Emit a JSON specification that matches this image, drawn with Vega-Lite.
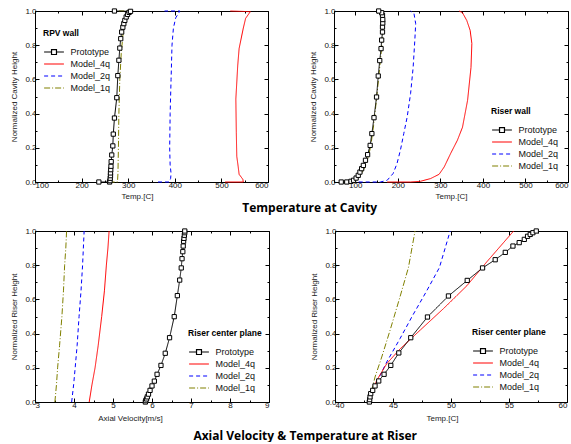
{
  "$schema": "https://vega.github.io/schema/vega-lite/v6.json",
  "padding": {"left": 10, "top": 6, "right": 0, "bottom": 0},
  "background": "white",
  "spacing": 12,
  "resolve": {"scale": {"color": "independent", "strokeDash": "independent"}, "legend": {"color": "independent", "strokeDash": "independent"}},
  "config": {
    "view": {"stroke": "#000", "strokeWidth": 1},
    "axis": {"grid": false, "domainColor": "#000", "domainWidth": 1, "tickColor": "#000", "tickWidth": 1, "labelOverlap": false,
      "labelFont": "Liberation Sans", "labelFontSize": 8, "labelColor": "#111", "labelPadding": 3,
      "titleFont": "Liberation Sans", "titleFontSize": 8, "titleFontWeight": "normal", "titleColor": "#222"},
    "legend": {"labelFont": "Liberation Sans", "labelFontSize": 9, "labelColor": "#111", "titleFont": "Liberation Sans",
      "titleFontSize": 8.5, "titleFontWeight": "bold", "titleColor": "#000", "symbolType": "stroke", "symbolSize": 121,
      "symbolStrokeWidth": 1.2, "symbolOffset": 4.5, "labelOffset": 10, "rowPadding": 0, "titlePadding": 8, "padding": 0, "orient": "none"},
    "title": {"font": "Open Sans", "fontSize": 12, "fontWeight": "bold", "color": "#000"}
  },
  "datasets": {
    "cav_rpv": [
      {"s": "Model_1q", "x": 258, "y": 0}, {"s": "Model_1q", "x": 277, "y": 0}, {"s": "Model_1q", "x": 278, "y": 0.05}, {"s": "Model_1q", "x": 279, "y": 0.2}, {"s": "Model_1q", "x": 280, "y": 0.4}, {"s": "Model_1q", "x": 282, "y": 0.6}, {"s": "Model_1q", "x": 285, "y": 0.75}, {"s": "Model_1q", "x": 289, "y": 0.87}, {"s": "Model_1q", "x": 294, "y": 0.94}, {"s": "Model_1q", "x": 300, "y": 0.98}, {"s": "Model_1q", "x": 304, "y": 1.0}, {"s": "Model_1q", "x": 280, "y": 1.0},
      {"s": "Model_2q", "x": 364, "y": 0}, {"s": "Model_2q", "x": 388, "y": 0}, {"s": "Model_2q", "x": 391, "y": 0.02}, {"s": "Model_2q", "x": 392, "y": 0.05}, {"s": "Model_2q", "x": 390, "y": 0.1}, {"s": "Model_2q", "x": 389, "y": 0.2}, {"s": "Model_2q", "x": 390, "y": 0.4}, {"s": "Model_2q", "x": 392, "y": 0.6}, {"s": "Model_2q", "x": 394, "y": 0.8}, {"s": "Model_2q", "x": 397, "y": 0.9}, {"s": "Model_2q", "x": 402, "y": 0.96}, {"s": "Model_2q", "x": 411, "y": 1.0}, {"s": "Model_2q", "x": 378, "y": 1.0},
      {"s": "Model_4q", "x": 508, "y": 0}, {"s": "Model_4q", "x": 547, "y": 0}, {"s": "Model_4q", "x": 546, "y": 0.016}, {"s": "Model_4q", "x": 538, "y": 0.045}, {"s": "Model_4q", "x": 536, "y": 0.09}, {"s": "Model_4q", "x": 533, "y": 0.15}, {"s": "Model_4q", "x": 532, "y": 0.29}, {"s": "Model_4q", "x": 531, "y": 0.485}, {"s": "Model_4q", "x": 535, "y": 0.68}, {"s": "Model_4q", "x": 538, "y": 0.78}, {"s": "Model_4q", "x": 547, "y": 0.9}, {"s": "Model_4q", "x": 552, "y": 0.957}, {"s": "Model_4q", "x": 562, "y": 0.996}, {"s": "Model_4q", "x": 519, "y": 1.0},
      {"s": "Prototype", "x": 237, "y": 0}, {"s": "Prototype", "x": 260, "y": 0}, {"s": "Prototype", "x": 261, "y": 0.008}, {"s": "Prototype", "x": 261.5, "y": 0.022}, {"s": "Prototype", "x": 262, "y": 0.037}, {"s": "Prototype", "x": 262, "y": 0.053}, {"s": "Prototype", "x": 262.5, "y": 0.072}, {"s": "Prototype", "x": 263, "y": 0.092}, {"s": "Prototype", "x": 263.5, "y": 0.119}, {"s": "Prototype", "x": 264.7, "y": 0.158}, {"s": "Prototype", "x": 267, "y": 0.211}, {"s": "Prototype", "x": 268, "y": 0.28}, {"s": "Prototype", "x": 270.5, "y": 0.374}, {"s": "Prototype", "x": 275.5, "y": 0.493}, {"s": "Prototype", "x": 277.7, "y": 0.622}, {"s": "Prototype", "x": 280, "y": 0.712}, {"s": "Prototype", "x": 282, "y": 0.783}, {"s": "Prototype", "x": 284, "y": 0.838}, {"s": "Prototype", "x": 286, "y": 0.877}, {"s": "Prototype", "x": 288.5, "y": 0.905}, {"s": "Prototype", "x": 290.6, "y": 0.926}, {"s": "Prototype", "x": 292.8, "y": 0.945}, {"s": "Prototype", "x": 295.7, "y": 0.965}, {"s": "Prototype", "x": 298.6, "y": 0.98}, {"s": "Prototype", "x": 302, "y": 0.992}, {"s": "Prototype", "x": 305, "y": 0.998}, {"s": "Prototype", "x": 270.5, "y": 1.0}
    ],
    "cav_riser": [
      {"s": "Model_1q", "x": 72, "y": 0}, {"s": "Model_1q", "x": 90, "y": 0.002}, {"s": "Model_1q", "x": 100, "y": 0.01}, {"s": "Model_1q", "x": 110, "y": 0.035}, {"s": "Model_1q", "x": 117, "y": 0.06}, {"s": "Model_1q", "x": 125, "y": 0.1}, {"s": "Model_1q", "x": 132, "y": 0.16}, {"s": "Model_1q", "x": 137, "y": 0.22}, {"s": "Model_1q", "x": 143, "y": 0.33}, {"s": "Model_1q", "x": 148, "y": 0.44}, {"s": "Model_1q", "x": 153, "y": 0.56}, {"s": "Model_1q", "x": 157, "y": 0.66}, {"s": "Model_1q", "x": 161, "y": 0.76}, {"s": "Model_1q", "x": 164, "y": 0.85}, {"s": "Model_1q", "x": 166, "y": 0.93}, {"s": "Model_1q", "x": 166, "y": 0.98}, {"s": "Model_1q", "x": 160, "y": 1.0},
      {"s": "Model_2q", "x": 108, "y": 0}, {"s": "Model_2q", "x": 159, "y": 0}, {"s": "Model_2q", "x": 175, "y": 0.01}, {"s": "Model_2q", "x": 189, "y": 0.05}, {"s": "Model_2q", "x": 198, "y": 0.107}, {"s": "Model_2q", "x": 206, "y": 0.185}, {"s": "Model_2q", "x": 214, "y": 0.283}, {"s": "Model_2q", "x": 222, "y": 0.38}, {"s": "Model_2q", "x": 230, "y": 0.517}, {"s": "Model_2q", "x": 236, "y": 0.67}, {"s": "Model_2q", "x": 240, "y": 0.83}, {"s": "Model_2q", "x": 242, "y": 0.926}, {"s": "Model_2q", "x": 238, "y": 0.985}, {"s": "Model_2q", "x": 230, "y": 1.0},
      {"s": "Model_4q", "x": 175, "y": 0}, {"s": "Model_4q", "x": 230, "y": 0}, {"s": "Model_4q", "x": 253, "y": 0.004}, {"s": "Model_4q", "x": 277, "y": 0.02}, {"s": "Model_4q", "x": 297, "y": 0.045}, {"s": "Model_4q", "x": 309, "y": 0.088}, {"s": "Model_4q", "x": 324, "y": 0.166}, {"s": "Model_4q", "x": 340, "y": 0.244}, {"s": "Model_4q", "x": 352, "y": 0.32}, {"s": "Model_4q", "x": 364, "y": 0.478}, {"s": "Model_4q", "x": 372, "y": 0.67}, {"s": "Model_4q", "x": 374, "y": 0.81}, {"s": "Model_4q", "x": 370, "y": 0.887}, {"s": "Model_4q", "x": 362, "y": 0.945}, {"s": "Model_4q", "x": 352, "y": 0.99}, {"s": "Model_4q", "x": 344, "y": 1.0},
      {"s": "Prototype", "x": 67, "y": 0}, {"s": "Prototype", "x": 80, "y": 0}, {"s": "Prototype", "x": 90, "y": 0.004}, {"s": "Prototype", "x": 96, "y": 0.01}, {"s": "Prototype", "x": 102, "y": 0.023}, {"s": "Prototype", "x": 107, "y": 0.039}, {"s": "Prototype", "x": 111, "y": 0.058}, {"s": "Prototype", "x": 115, "y": 0.078}, {"s": "Prototype", "x": 119, "y": 0.097}, {"s": "Prototype", "x": 124, "y": 0.127}, {"s": "Prototype", "x": 129, "y": 0.16}, {"s": "Prototype", "x": 135, "y": 0.214}, {"s": "Prototype", "x": 139, "y": 0.283}, {"s": "Prototype", "x": 144, "y": 0.376}, {"s": "Prototype", "x": 150, "y": 0.497}, {"s": "Prototype", "x": 154, "y": 0.62}, {"s": "Prototype", "x": 157.5, "y": 0.71}, {"s": "Prototype", "x": 160.6, "y": 0.78}, {"s": "Prototype", "x": 162, "y": 0.83}, {"s": "Prototype", "x": 164, "y": 0.877}, {"s": "Prototype", "x": 164, "y": 0.906}, {"s": "Prototype", "x": 164.6, "y": 0.93}, {"s": "Prototype", "x": 164.6, "y": 0.95}, {"s": "Prototype", "x": 164, "y": 0.975}, {"s": "Prototype", "x": 162, "y": 0.99}, {"s": "Prototype", "x": 155, "y": 1.0}
    ],
    "riser_vel": [
      {"s": "Model_1q", "x": 3.51, "y": 0}, {"s": "Model_1q", "x": 3.55, "y": 0.1}, {"s": "Model_1q", "x": 3.58, "y": 0.2}, {"s": "Model_1q", "x": 3.63, "y": 0.33}, {"s": "Model_1q", "x": 3.69, "y": 0.5}, {"s": "Model_1q", "x": 3.73, "y": 0.65}, {"s": "Model_1q", "x": 3.76, "y": 0.8}, {"s": "Model_1q", "x": 3.79, "y": 0.9}, {"s": "Model_1q", "x": 3.81, "y": 1.0},
      {"s": "Model_2q", "x": 3.94, "y": 0}, {"s": "Model_2q", "x": 3.99, "y": 0.1}, {"s": "Model_2q", "x": 4.03, "y": 0.2}, {"s": "Model_2q", "x": 4.08, "y": 0.33}, {"s": "Model_2q", "x": 4.13, "y": 0.5}, {"s": "Model_2q", "x": 4.18, "y": 0.65}, {"s": "Model_2q", "x": 4.22, "y": 0.8}, {"s": "Model_2q", "x": 4.24, "y": 0.9}, {"s": "Model_2q", "x": 4.26, "y": 1.0},
      {"s": "Model_4q", "x": 4.39, "y": 0}, {"s": "Model_4q", "x": 4.46, "y": 0.1}, {"s": "Model_4q", "x": 4.54, "y": 0.2}, {"s": "Model_4q", "x": 4.62, "y": 0.33}, {"s": "Model_4q", "x": 4.71, "y": 0.5}, {"s": "Model_4q", "x": 4.78, "y": 0.65}, {"s": "Model_4q", "x": 4.83, "y": 0.8}, {"s": "Model_4q", "x": 4.87, "y": 0.9}, {"s": "Model_4q", "x": 4.9, "y": 1.0},
      {"s": "Prototype", "x": 5.83, "y": 0}, {"s": "Prototype", "x": 5.84, "y": 0.008}, {"s": "Prototype", "x": 5.86, "y": 0.018}, {"s": "Prototype", "x": 5.88, "y": 0.03}, {"s": "Prototype", "x": 5.91, "y": 0.046}, {"s": "Prototype", "x": 5.95, "y": 0.068}, {"s": "Prototype", "x": 6.0, "y": 0.094}, {"s": "Prototype", "x": 6.06, "y": 0.122}, {"s": "Prototype", "x": 6.13, "y": 0.162}, {"s": "Prototype", "x": 6.23, "y": 0.214}, {"s": "Prototype", "x": 6.34, "y": 0.285}, {"s": "Prototype", "x": 6.45, "y": 0.376}, {"s": "Prototype", "x": 6.57, "y": 0.499}, {"s": "Prototype", "x": 6.65, "y": 0.622}, {"s": "Prototype", "x": 6.71, "y": 0.713}, {"s": "Prototype", "x": 6.75, "y": 0.784}, {"s": "Prototype", "x": 6.77, "y": 0.838}, {"s": "Prototype", "x": 6.79, "y": 0.879}, {"s": "Prototype", "x": 6.8, "y": 0.912}, {"s": "Prototype", "x": 6.81, "y": 0.94}, {"s": "Prototype", "x": 6.82, "y": 0.957}, {"s": "Prototype", "x": 6.83, "y": 0.975}, {"s": "Prototype", "x": 6.84, "y": 0.99}, {"s": "Prototype", "x": 6.84, "y": 1.0}
    ],
    "riser_temp": [
      {"s": "Model_1q", "x": 42.96, "y": 0}, {"s": "Model_1q", "x": 43.05, "y": 0.03}, {"s": "Model_1q", "x": 43.17, "y": 0.068}, {"s": "Model_1q", "x": 43.45, "y": 0.146}, {"s": "Model_1q", "x": 44.03, "y": 0.263}, {"s": "Model_1q", "x": 44.75, "y": 0.42}, {"s": "Model_1q", "x": 45.6, "y": 0.614}, {"s": "Model_1q", "x": 46.33, "y": 0.786}, {"s": "Model_1q", "x": 46.9, "y": 1.0},
      {"s": "Model_2q", "x": 42.96, "y": 0}, {"s": "Model_2q", "x": 43.05, "y": 0.03}, {"s": "Model_2q", "x": 43.25, "y": 0.068}, {"s": "Model_2q", "x": 43.74, "y": 0.136}, {"s": "Model_2q", "x": 44.46, "y": 0.234}, {"s": "Model_2q", "x": 45.6, "y": 0.37}, {"s": "Model_2q", "x": 46.7, "y": 0.507}, {"s": "Model_2q", "x": 47.85, "y": 0.643}, {"s": "Model_2q", "x": 49.0, "y": 0.786}, {"s": "Model_2q", "x": 49.93, "y": 1.0},
      {"s": "Model_4q", "x": 42.96, "y": 0}, {"s": "Model_4q", "x": 43.05, "y": 0.03}, {"s": "Model_4q", "x": 43.17, "y": 0.05}, {"s": "Model_4q", "x": 43.6, "y": 0.127}, {"s": "Model_4q", "x": 44.46, "y": 0.224}, {"s": "Model_4q", "x": 45.6, "y": 0.31}, {"s": "Model_4q", "x": 47.34, "y": 0.42}, {"s": "Model_4q", "x": 49.35, "y": 0.546}, {"s": "Model_4q", "x": 51.37, "y": 0.68}, {"s": "Model_4q", "x": 53.09, "y": 0.82}, {"s": "Model_4q", "x": 55.4, "y": 1.0},
      {"s": "Prototype", "x": 42.96, "y": 0}, {"s": "Prototype", "x": 42.99, "y": 0.014}, {"s": "Prototype", "x": 43.02, "y": 0.03}, {"s": "Prototype", "x": 43.08, "y": 0.049}, {"s": "Prototype", "x": 43.25, "y": 0.068}, {"s": "Prototype", "x": 43.45, "y": 0.094}, {"s": "Prototype", "x": 43.77, "y": 0.123}, {"s": "Prototype", "x": 44.23, "y": 0.162}, {"s": "Prototype", "x": 44.81, "y": 0.214}, {"s": "Prototype", "x": 45.5, "y": 0.287}, {"s": "Prototype", "x": 46.53, "y": 0.376}, {"s": "Prototype", "x": 47.97, "y": 0.497}, {"s": "Prototype", "x": 49.78, "y": 0.62}, {"s": "Prototype", "x": 51.4, "y": 0.711}, {"s": "Prototype", "x": 52.72, "y": 0.784}, {"s": "Prototype", "x": 53.81, "y": 0.832}, {"s": "Prototype", "x": 54.68, "y": 0.875}, {"s": "Prototype", "x": 55.34, "y": 0.912}, {"s": "Prototype", "x": 55.88, "y": 0.932}, {"s": "Prototype", "x": 56.32, "y": 0.951}, {"s": "Prototype", "x": 56.6, "y": 0.969}, {"s": "Prototype", "x": 56.83, "y": 0.98}, {"s": "Prototype", "x": 57.06, "y": 0.99}, {"s": "Prototype", "x": 57.35, "y": 1.0}
    ]
  },
  "vconcat": [
    {
      "title": {"text": "Temperature at Cavity", "orient": "bottom", "anchor": "middle", "dx": 20, "offset": 2},
      "spacing": 40,
      "resolve": {"scale": {"color": "independent", "strokeDash": "independent"}, "legend": {"color": "independent", "strokeDash": "independent"}},
      "hconcat": [
        {
          "width": 233, "height": 171,
          "data": {"name": "cav_rpv"},
          "resolve": {"axis": {"x": "independent", "y": "independent"}},
          "layer": [
            {
              "mark": {"type": "line", "strokeWidth": 1},
              "encoding": {
                "x": {"field": "x", "type": "quantitative", "scale": {"domain": [100, 600], "nice": false, "zero": false},
                  "axis": {"title": "Temp.[C]", "titleX": 102, "values": [100, 150, 200, 250, 300, 350, 400, 450, 500, 550, 600], "labelExpr": "datum.value % 100 === 0 ? datum.label : ''", "tickSize": {"condition": {"test": "datum.value % 100 === 0", "value": -4}, "value": -2}, "titlePadding": 1}},
                "y": {"field": "y", "type": "quantitative", "scale": {"domain": [0, 1], "nice": false},
                  "axis": {"title": "Normalized Cavity Height", "format": ".1f", "values": [0, 0.1, 0.2, 0.3, 0.4, 0.5, 0.6, 0.7, 0.8, 0.9, 1], "labelExpr": "round(datum.value * 10) % 2 === 0 ? datum.label : ''", "tickSize": {"condition": {"test": "round(datum.value * 10) % 2 === 0", "value": -4}, "value": -2}, "titlePadding": 6}},
                "color": {"field": "s", "type": "nominal", "scale": {"domain": ["Prototype", "Model_4q", "Model_2q", "Model_1q"], "range": ["#000000", "#ff0000", "#0000ff", "#808000"]},
                  "legend": {"title": "RPV wall", "legendX": 8, "legendY": 18, "encode": {"symbols": {"update": {"shape": {"signal": "datum.value === 'Prototype' ? 'M-1.8,0H-0.45M0.45,0H1.8M-0.45,-0.45H0.45V0.45H-0.45Z' : 'M-1.8,0H1.8'"}, "strokeDash": {"signal": "datum.value === 'Model_2q' ? [4, 3] : datum.value === 'Model_1q' ? [6, 2, 1, 2] : [1, 0]"}}}}}},
                "strokeDash": {"field": "s", "type": "nominal", "scale": {"domain": ["Prototype", "Model_4q", "Model_2q", "Model_1q"], "range": [[1, 0], [1, 0], [4, 3], [6, 2, 1, 2]]}, "legend": null},
                "order": {"value": null}
              }
            },
            {
              "transform": [{"filter": "datum.s === 'Prototype'"}],
              "mark": {"type": "point", "shape": "square", "size": 18, "filled": true, "fill": "#ffffff", "stroke": "#000000", "strokeWidth": 1, "opacity": 1},
              "encoding": {
                "x": {"field": "x", "type": "quantitative", "scale": {"domain": [100, 600], "nice": false, "zero": false},
                  "axis": {"orient": "top", "labels": false, "title": null, "domain": false, "values": [100, 150, 200, 250, 300, 350, 400, 450, 500, 550, 600], "tickSize": {"condition": {"test": "datum.value % 100 === 0", "value": -4}, "value": -2}}},
                "y": {"field": "y", "type": "quantitative", "scale": {"domain": [0, 1], "nice": false},
                  "axis": {"orient": "right", "labels": false, "title": null, "domain": false, "values": [0, 0.1, 0.2, 0.3, 0.4, 0.5, 0.6, 0.7, 0.8, 0.9, 1], "tickSize": {"condition": {"test": "round(datum.value * 10) % 2 === 0", "value": -4}, "value": -2}}}
              }
            }
          ]
        },
        {
          "width": 234, "height": 171,
          "data": {"name": "cav_riser"},
          "resolve": {"axis": {"x": "independent", "y": "independent"}},
          "layer": [
            {
              "mark": {"type": "line", "strokeWidth": 1},
              "encoding": {
                "x": {"field": "x", "type": "quantitative", "scale": {"domain": [50, 600], "nice": false, "zero": false},
                  "axis": {"title": "Temp.[C]", "values": [50, 100, 150, 200, 250, 300, 350, 400, 450, 500, 550, 600], "labelExpr": "datum.value % 100 === 0 ? datum.label : ''", "tickSize": {"condition": {"test": "datum.value % 100 === 0", "value": -4}, "value": -2}, "titlePadding": 1}},
                "y": {"field": "y", "type": "quantitative", "scale": {"domain": [0, 1], "nice": false},
                  "axis": {"title": "Normalized Cavity Height", "format": ".1f", "values": [0, 0.1, 0.2, 0.3, 0.4, 0.5, 0.6, 0.7, 0.8, 0.9, 1], "labelExpr": "round(datum.value * 10) % 2 === 0 ? datum.label : ''", "tickSize": {"condition": {"test": "round(datum.value * 10) % 2 === 0", "value": -4}, "value": -2}, "titlePadding": 6}},
                "color": {"field": "s", "type": "nominal", "scale": {"domain": ["Prototype", "Model_4q", "Model_2q", "Model_1q"], "range": ["#000000", "#ff0000", "#0000ff", "#808000"]},
                  "legend": {"title": "Riser wall", "legendX": 157, "legendY": 96, "encode": {"symbols": {"update": {"shape": {"signal": "datum.value === 'Prototype' ? 'M-1.8,0H-0.45M0.45,0H1.8M-0.45,-0.45H0.45V0.45H-0.45Z' : 'M-1.8,0H1.8'"}, "strokeDash": {"signal": "datum.value === 'Model_2q' ? [4, 3] : datum.value === 'Model_1q' ? [6, 2, 1, 2] : [1, 0]"}}}}}},
                "strokeDash": {"field": "s", "type": "nominal", "scale": {"domain": ["Prototype", "Model_4q", "Model_2q", "Model_1q"], "range": [[1, 0], [1, 0], [4, 3], [6, 2, 1, 2]]}, "legend": null},
                "order": {"value": null}
              }
            },
            {
              "transform": [{"filter": "datum.s === 'Prototype'"}],
              "mark": {"type": "point", "shape": "square", "size": 18, "filled": true, "fill": "#ffffff", "stroke": "#000000", "strokeWidth": 1, "opacity": 1},
              "encoding": {
                "x": {"field": "x", "type": "quantitative", "scale": {"domain": [50, 600], "nice": false, "zero": false},
                  "axis": {"orient": "top", "labels": false, "title": null, "domain": false, "values": [50, 100, 150, 200, 250, 300, 350, 400, 450, 500, 550, 600], "tickSize": {"condition": {"test": "datum.value % 100 === 0", "value": -4}, "value": -2}}},
                "y": {"field": "y", "type": "quantitative", "scale": {"domain": [0, 1], "nice": false},
                  "axis": {"orient": "right", "labels": false, "title": null, "domain": false, "values": [0, 0.1, 0.2, 0.3, 0.4, 0.5, 0.6, 0.7, 0.8, 0.9, 1], "tickSize": {"condition": {"test": "round(datum.value * 10) % 2 === 0", "value": -4}, "value": -2}}}
              }
            }
          ]
        }
      ]
    },
    {
      "title": {"text": "Axial Velocity & Temperature at Riser", "orient": "bottom", "anchor": "middle", "dx": 16, "offset": 8},
      "spacing": 40,
      "resolve": {"scale": {"color": "independent", "strokeDash": "independent"}, "legend": {"color": "independent", "strokeDash": "independent"}},
      "hconcat": [
        {
          "width": 234, "height": 171,
          "data": {"name": "riser_vel"},
          "resolve": {"axis": {"x": "independent", "y": "independent"}},
          "layer": [
            {
              "mark": {"type": "line", "strokeWidth": 1},
              "encoding": {
                "x": {"field": "x", "type": "quantitative", "scale": {"domain": [3, 9], "nice": false, "zero": false},
                  "axis": {"title": "Axial Velocity[m/s]", "titleX": 95, "format": ".0f", "values": [3, 3.5, 4, 4.5, 5, 5.5, 6, 6.5, 7, 7.5, 8, 8.5, 9], "labelExpr": "datum.value % 1 === 0 ? datum.label : ''", "tickSize": {"condition": {"test": "datum.value % 1 === 0", "value": -4}, "value": -2}, "titlePadding": 3}},
                "y": {"field": "y", "type": "quantitative", "scale": {"domain": [0, 1], "nice": false},
                  "axis": {"title": "Normalized Riser Height", "format": ".1f", "values": [0, 0.1, 0.2, 0.3, 0.4, 0.5, 0.6, 0.7, 0.8, 0.9, 1], "labelExpr": "round(datum.value * 10) % 2 === 0 ? datum.label : ''", "tickSize": {"condition": {"test": "round(datum.value * 10) % 2 === 0", "value": -4}, "value": -2}, "titlePadding": 6}},
                "color": {"field": "s", "type": "nominal", "scale": {"domain": ["Prototype", "Model_4q", "Model_2q", "Model_1q"], "range": ["#000000", "#ff0000", "#0000ff", "#808000"]},
                  "legend": {"title": "Riser center plane", "legendX": 153, "legendY": 98, "encode": {"symbols": {"update": {"shape": {"signal": "datum.value === 'Prototype' ? 'M-1.8,0H-0.45M0.45,0H1.8M-0.45,-0.45H0.45V0.45H-0.45Z' : 'M-1.8,0H1.8'"}, "strokeDash": {"signal": "datum.value === 'Model_2q' ? [4, 3] : datum.value === 'Model_1q' ? [6, 2, 1, 2] : [1, 0]"}}}}}},
                "strokeDash": {"field": "s", "type": "nominal", "scale": {"domain": ["Prototype", "Model_4q", "Model_2q", "Model_1q"], "range": [[1, 0], [1, 0], [4, 3], [6, 2, 1, 2]]}, "legend": null},
                "order": {"value": null}
              }
            },
            {
              "transform": [{"filter": "datum.s === 'Prototype'"}],
              "mark": {"type": "point", "shape": "square", "size": 18, "filled": true, "fill": "#ffffff", "stroke": "#000000", "strokeWidth": 1, "opacity": 1},
              "encoding": {
                "x": {"field": "x", "type": "quantitative", "scale": {"domain": [3, 9], "nice": false, "zero": false},
                  "axis": {"orient": "top", "labels": false, "title": null, "domain": false, "values": [3, 3.5, 4, 4.5, 5, 5.5, 6, 6.5, 7, 7.5, 8, 8.5, 9], "tickSize": {"condition": {"test": "datum.value % 1 === 0", "value": -4}, "value": -2}}},
                "y": {"field": "y", "type": "quantitative", "scale": {"domain": [0, 1], "nice": false},
                  "axis": {"orient": "right", "labels": false, "title": null, "domain": false, "values": [0, 0.1, 0.2, 0.3, 0.4, 0.5, 0.6, 0.7, 0.8, 0.9, 1], "tickSize": {"condition": {"test": "round(datum.value * 10) % 2 === 0", "value": -4}, "value": -2}}}
              }
            }
          ]
        },
        {
          "width": 232, "height": 171,
          "data": {"name": "riser_temp"},
          "resolve": {"axis": {"x": "independent", "y": "independent"}},
          "layer": [
            {
              "mark": {"type": "line", "strokeWidth": 1},
              "encoding": {
                "x": {"field": "x", "type": "quantitative", "scale": {"domain": [40, 60], "nice": false, "zero": false},
                  "axis": {"title": "Temp.[C]", "titleX": 107, "format": ".0f", "values": [40, 42.5, 45, 47.5, 50, 52.5, 55, 57.5, 60], "labelExpr": "datum.value % 5 === 0 ? datum.label : ''", "tickSize": {"condition": {"test": "datum.value % 5 === 0", "value": -4}, "value": -2}, "titlePadding": 3}},
                "y": {"field": "y", "type": "quantitative", "scale": {"domain": [0, 1], "nice": false},
                  "axis": {"title": "Normalized Riser Height", "format": ".1f", "values": [0, 0.1, 0.2, 0.3, 0.4, 0.5, 0.6, 0.7, 0.8, 0.9, 1], "labelExpr": "round(datum.value * 10) % 2 === 0 ? datum.label : ''", "tickSize": {"condition": {"test": "round(datum.value * 10) % 2 === 0", "value": -4}, "value": -2}, "titlePadding": 6}},
                "color": {"field": "s", "type": "nominal", "scale": {"domain": ["Prototype", "Model_4q", "Model_2q", "Model_1q"], "range": ["#000000", "#ff0000", "#0000ff", "#808000"]},
                  "legend": {"title": "Riser center plane", "legendX": 137, "legendY": 97, "encode": {"symbols": {"update": {"shape": {"signal": "datum.value === 'Prototype' ? 'M-1.8,0H-0.45M0.45,0H1.8M-0.45,-0.45H0.45V0.45H-0.45Z' : 'M-1.8,0H1.8'"}, "strokeDash": {"signal": "datum.value === 'Model_2q' ? [4, 3] : datum.value === 'Model_1q' ? [6, 2, 1, 2] : [1, 0]"}}}}}},
                "strokeDash": {"field": "s", "type": "nominal", "scale": {"domain": ["Prototype", "Model_4q", "Model_2q", "Model_1q"], "range": [[1, 0], [1, 0], [4, 3], [6, 2, 1, 2]]}, "legend": null},
                "order": {"value": null}
              }
            },
            {
              "transform": [{"filter": "datum.s === 'Prototype'"}],
              "mark": {"type": "point", "shape": "square", "size": 18, "filled": true, "fill": "#ffffff", "stroke": "#000000", "strokeWidth": 1, "opacity": 1},
              "encoding": {
                "x": {"field": "x", "type": "quantitative", "scale": {"domain": [40, 60], "nice": false, "zero": false},
                  "axis": {"orient": "top", "labels": false, "title": null, "domain": false, "values": [40, 42.5, 45, 47.5, 50, 52.5, 55, 57.5, 60], "tickSize": {"condition": {"test": "datum.value % 5 === 0", "value": -4}, "value": -2}}},
                "y": {"field": "y", "type": "quantitative", "scale": {"domain": [0, 1], "nice": false},
                  "axis": {"orient": "right", "labels": false, "title": null, "domain": false, "values": [0, 0.1, 0.2, 0.3, 0.4, 0.5, 0.6, 0.7, 0.8, 0.9, 1], "tickSize": {"condition": {"test": "round(datum.value * 10) % 2 === 0", "value": -4}, "value": -2}}}
              }
            }
          ]
        }
      ]
    }
  ]
}
